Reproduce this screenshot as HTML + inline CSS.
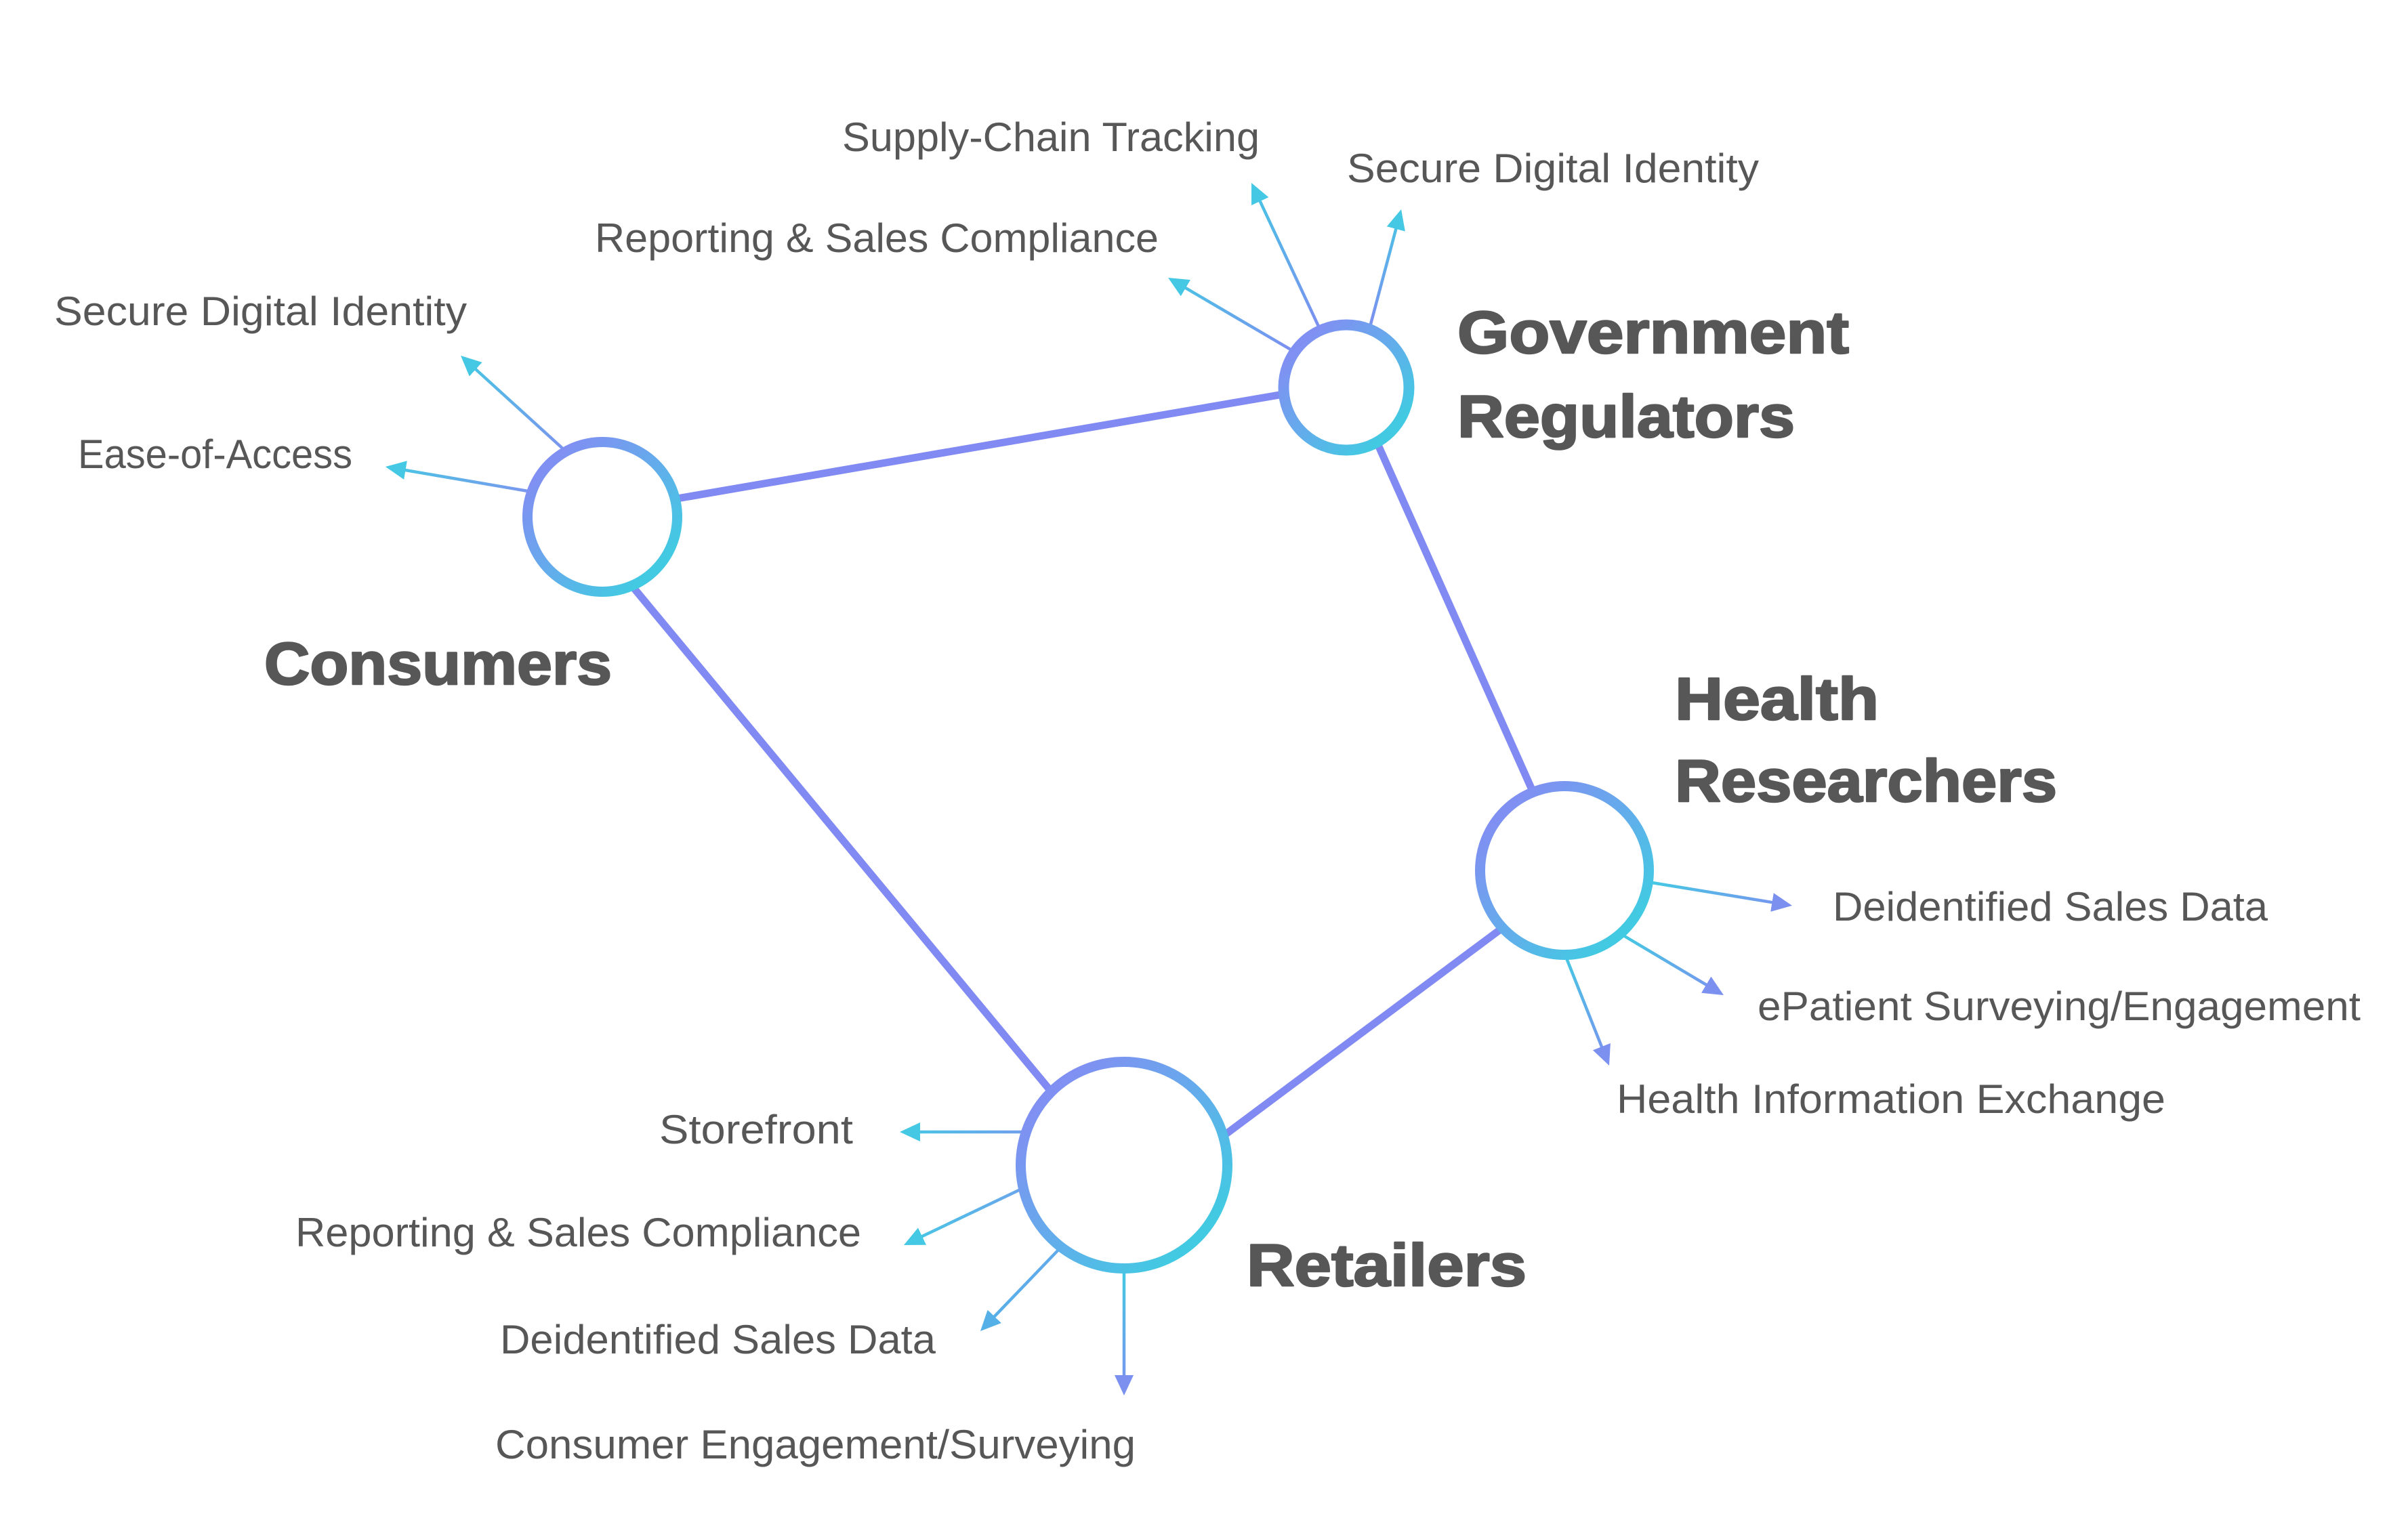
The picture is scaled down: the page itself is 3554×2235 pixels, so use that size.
<!DOCTYPE html>
<html>
<head>
<meta charset="utf-8">
<style>
html,body{margin:0;padding:0;background:#ffffff;}
svg{display:block;}
text{font-family:"Liberation Sans",Arial,sans-serif;fill:#575757;}
.lbl{font-size:60px;font-weight:400;}
.ttl{font-size:88px;font-weight:700;stroke:#575757;stroke-width:2.5px;stroke-linejoin:round;}
</style>
</head>
<body>
<svg width="3554" height="2235" viewBox="0 0 3554 2235" xmlns="http://www.w3.org/2000/svg">
<defs>
  <linearGradient id="cg" x1="0.15" y1="0.15" x2="0.85" y2="0.85">
    <stop offset="0" stop-color="#8090f2"/>
    <stop offset="0.5" stop-color="#63aceb"/>
    <stop offset="1" stop-color="#42cae2"/>
  </linearGradient>
  <marker id="mC" viewBox="0 0 30 28" refX="10" refY="14" markerWidth="30" markerHeight="28" markerUnits="userSpaceOnUse" orient="auto">
    <path d="M0,0 L30,14 L0,28 z" fill="#45c8e3"/>
  </marker>
  <marker id="mP" viewBox="0 0 30 28" refX="10" refY="14" markerWidth="30" markerHeight="28" markerUnits="userSpaceOnUse" orient="auto">
    <path d="M0,0 L30,14 L0,28 z" fill="#7c90f0"/>
  </marker>
  <marker id="mB" viewBox="0 0 30 28" refX="10" refY="14" markerWidth="30" markerHeight="28" markerUnits="userSpaceOnUse" orient="auto">
    <path d="M0,0 L30,14 L0,28 z" fill="#55b0e8"/>
  </marker>

  <linearGradient id="g1" gradientUnits="userSpaceOnUse" x1="830" y1="662" x2="680" y2="525"><stop offset="0" stop-color="#7b95ee"/><stop offset="1" stop-color="#45c8e3"/></linearGradient>
  <linearGradient id="g2" gradientUnits="userSpaceOnUse" x1="777" y1="725" x2="569" y2="689"><stop offset="0" stop-color="#7a98ee"/><stop offset="1" stop-color="#45c8e3"/></linearGradient>
  <linearGradient id="g3" gradientUnits="userSpaceOnUse" x1="1903" y1="515" x2="1724" y2="410"><stop offset="0" stop-color="#7c90f0"/><stop offset="1" stop-color="#45c8e3"/></linearGradient>
  <linearGradient id="g4" gradientUnits="userSpaceOnUse" x1="1945" y1="480" x2="1847" y2="270"><stop offset="0" stop-color="#7c90f0"/><stop offset="1" stop-color="#45c8e3"/></linearGradient>
  <linearGradient id="g5" gradientUnits="userSpaceOnUse" x1="2023" y1="478" x2="2068" y2="309"><stop offset="0" stop-color="#7c90f0"/><stop offset="1" stop-color="#45c8e3"/></linearGradient>
  <linearGradient id="g6" gradientUnits="userSpaceOnUse" x1="2440" y1="1303" x2="2645" y2="1337"><stop offset="0" stop-color="#45c8e3"/><stop offset="1" stop-color="#7c90f0"/></linearGradient>
  <linearGradient id="g7" gradientUnits="userSpaceOnUse" x1="2398" y1="1382" x2="2544" y2="1469"><stop offset="0" stop-color="#45c8e3"/><stop offset="1" stop-color="#7c90f0"/></linearGradient>
  <linearGradient id="g8" gradientUnits="userSpaceOnUse" x1="2310" y1="1410" x2="2375" y2="1573"><stop offset="0" stop-color="#45c8e3"/><stop offset="1" stop-color="#7c90f0"/></linearGradient>
  <linearGradient id="g9" gradientUnits="userSpaceOnUse" x1="1507" y1="1671" x2="1328" y2="1671"><stop offset="0" stop-color="#6fa0ec"/><stop offset="1" stop-color="#45c8e3"/></linearGradient>
  <linearGradient id="g10" gradientUnits="userSpaceOnUse" x1="1503" y1="1757" x2="1334" y2="1838"><stop offset="0" stop-color="#6aa6ec"/><stop offset="1" stop-color="#45c8e3"/></linearGradient>
  <linearGradient id="g11" gradientUnits="userSpaceOnUse" x1="1560" y1="1847" x2="1447" y2="1965"><stop offset="0" stop-color="#62aaea"/><stop offset="1" stop-color="#55b0e8"/></linearGradient>
  <linearGradient id="g12" gradientUnits="userSpaceOnUse" x1="1659" y1="1880" x2="1659" y2="2060"><stop offset="0" stop-color="#45c8e3"/><stop offset="1" stop-color="#7c90f0"/></linearGradient>
</defs>

<rect x="0" y="0" width="3554" height="2235" fill="#ffffff"/>

<!-- main connectors -->
<g stroke="#8189f2" stroke-width="11" fill="none" stroke-linecap="butt">
  <line x1="889" y1="755" x2="1987" y2="566"/>
  <line x1="913" y1="841" x2="1571" y2="1635"/>
  <line x1="2010" y1="603" x2="2275" y2="1197"/>
  <line x1="1780" y1="1696" x2="2240" y2="1353"/>
</g>

<!-- thin arrows -->
<g fill="none" stroke-width="4.5">
  <line x1="837" y1="668" x2="694.8" y2="538.5" stroke="url(#g1)" marker-end="url(#mC)"/>
  <line x1="785" y1="726" x2="588.7" y2="692.4" stroke="url(#g2)" marker-end="url(#mC)"/>
  <line x1="1910" y1="519" x2="1741.3" y2="420.1" stroke="url(#g3)" marker-end="url(#mC)"/>
  <line x1="1949" y1="488" x2="1855.5" y2="288.1" stroke="url(#g4)" marker-end="url(#mC)"/>
  <line x1="2021" y1="486" x2="2062.9" y2="328.3" stroke="url(#g5)" marker-end="url(#mC)"/>
  <line x1="2432" y1="1302" x2="2625.3" y2="1333.7" stroke="url(#g6)" marker-end="url(#mP)"/>
  <line x1="2391" y1="1378" x2="2526.8" y2="1458.8" stroke="url(#g7)" marker-end="url(#mP)"/>
  <line x1="2307" y1="1402" x2="2367.6" y2="1554.4" stroke="url(#g8)" marker-end="url(#mP)"/>
  <line x1="1515" y1="1671" x2="1348" y2="1671" stroke="url(#g9)" marker-end="url(#mC)"/>
  <line x1="1510" y1="1754" x2="1352" y2="1829.4" stroke="url(#g10)" marker-end="url(#mC)"/>
  <line x1="1566" y1="1841" x2="1460.8" y2="1950.6" stroke="url(#g11)" marker-end="url(#mB)"/>
  <line x1="1659" y1="1872" x2="1659" y2="2040" stroke="url(#g12)" marker-end="url(#mP)"/>
</g>

<!-- nodes -->
<g fill="#ffffff" stroke="url(#cg)">
  <circle cx="889" cy="763" r="110.5" stroke-width="15"/>
  <circle cx="1987" cy="572" r="92.5" stroke-width="16"/>
  <circle cx="2309" cy="1285" r="124.5" stroke-width="15"/>
  <circle cx="1659" cy="1720" r="152.5" stroke-width="15"/>
</g>

<!-- titles -->
<text class="ttl" x="390" y="1010" textLength="513" lengthAdjust="spacingAndGlyphs">Consumers</text>
<text class="ttl" x="2151" y="521" textLength="578" lengthAdjust="spacingAndGlyphs">Government</text>
<text class="ttl" x="2151" y="645" textLength="498" lengthAdjust="spacingAndGlyphs">Regulators</text>
<text class="ttl" x="2472" y="1062" textLength="301" lengthAdjust="spacingAndGlyphs">Health</text>
<text class="ttl" x="2472" y="1183" textLength="564" lengthAdjust="spacingAndGlyphs">Researchers</text>
<text class="ttl" x="1840" y="1898" textLength="413" lengthAdjust="spacingAndGlyphs">Retailers</text>

<!-- labels -->
<text class="lbl" x="1243" y="223" textLength="616" lengthAdjust="spacingAndGlyphs">Supply-Chain Tracking</text>
<text class="lbl" x="1988" y="269" textLength="608" lengthAdjust="spacingAndGlyphs">Secure Digital Identity</text>
<text class="lbl" x="878" y="372" textLength="832" lengthAdjust="spacingAndGlyphs">Reporting &amp; Sales Compliance</text>
<text class="lbl" x="80" y="480" textLength="609" lengthAdjust="spacingAndGlyphs">Secure Digital Identity</text>
<text class="lbl" x="115" y="691" textLength="405" lengthAdjust="spacingAndGlyphs">Ease-of-Access</text>
<text class="lbl" x="2705" y="1359" textLength="642" lengthAdjust="spacingAndGlyphs">Deidentified Sales Data</text>
<text class="lbl" x="2594" y="1506" textLength="890" lengthAdjust="spacingAndGlyphs">ePatient Surveying/Engagement</text>
<text class="lbl" x="2386" y="1643" textLength="810" lengthAdjust="spacingAndGlyphs">Health Information Exchange</text>
<text class="lbl" x="973" y="1688" textLength="286" lengthAdjust="spacingAndGlyphs">Storefront</text>
<text class="lbl" x="436" y="1840" textLength="835" lengthAdjust="spacingAndGlyphs">Reporting &amp; Sales Compliance</text>
<text class="lbl" x="738" y="1998" textLength="643" lengthAdjust="spacingAndGlyphs">Deidentified Sales Data</text>
<text class="lbl" x="731" y="2153" textLength="945" lengthAdjust="spacingAndGlyphs">Consumer Engagement/Surveying</text>
</svg>
</body>
</html>
